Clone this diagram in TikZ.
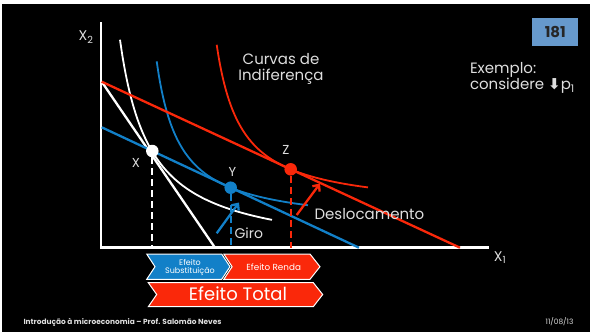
\documentclass[tikz,border=0pt]{standalone}
\usepackage{fontspec}
\setmainfont{Poppins}
\newfontfamily\symfont{DejaVu Sans}
\usetikzlibrary{arrows.meta}
\definecolor{slblue}{RGB}{18,128,200}
\definecolor{slred}{RGB}{250,40,10}
\definecolor{sltxt}{RGB}{222,222,222}
\definecolor{slbox}{RGB}{102,153,204}

\begin{document}
\begin{tikzpicture}[x=1pt, y=-1pt,
  axisline/.style={white, line width=2.5pt},
  budget/.style={line width=2.3pt},
  indif/.style={line width=1.8pt},
  proj/.style={line width=2.3pt, dash pattern=on 7pt off 4pt},
  eqpt/.style={circle, minimum size=12.5pt, inner sep=0pt},
  lbl/.style={text=sltxt, font=\fontsize{13}{15}\selectfont},
  chev/.style={draw=white, line width=1pt},
  effarrow/.style={line width=2.3pt, -{Straight Barb[length=5pt, width=9pt]}}]
% ---- slide background ----
\fill[black] (0,0) rectangle (590,332);
\fill[white] (0,0) rectangle (590,4);
\fill[white] (0,0) rectangle (2,332);
\useasboundingbox (0,0) rectangle (590,332);
% ---- axes ----
\coordinate (O) at (101,247.7);
\coordinate (ytop) at (101,22);
\coordinate (xend) at (489,247.7);
\draw[axisline] (ytop) -- (O) -- (xend);
\node[lbl, font=\fontsize{14}{16}\selectfont] (lX2) at (86,37) {X\textsubscript{2}};
\node[lbl, font=\fontsize{14}{16}\selectfont] (lX1) at (500,258) {X\textsubscript{1}};
% ---- indifference curves ----
\draw[indif, white]  plot[domain=120:272, samples=80, smooth] (\x, {255.4-6470/(\x-90)});
\draw[indif, slblue] plot[domain=156.7:308, samples=80, smooth] (\x, {227.3-3850/(\x-133.5)});
\draw[indif, slred]  plot[domain=216.7:368, samples=80, smooth] (\x, {210.5-4060/(\x-192.2)});
% ---- budget lines ----
\coordinate (Aw) at (101.7,81.7);
\coordinate (Bw) at (215,247.7);
\coordinate (Br) at (460,247.7);
\coordinate (Ab) at (101.7,127.3);
\coordinate (Bb) at (359,247.7);
\draw[budget, white]  (Aw) -- (Bw);
\draw[budget, slred]  (Aw) -- (Br);
\draw[budget, slblue] (Ab) -- (Bb);
% ---- equilibrium points ----
\node[eqpt, fill=white]  (ptX) at (152.3,151) {};
\node[eqpt, fill=slblue] (ptY) at (230.7,187.7) {};
\node[eqpt, fill=slred]  (ptZ) at (290.7,169.3) {};
\node[lbl] (lX) at (136,163) {X};
\node[lbl] (lY) at (232.3,171.7) {Y};
\node[lbl] (lZ) at (286,150) {Z};
\draw[proj, white]  (ptX) -- (ptX |- O);
\draw[proj, slblue] (ptY) -- (ptY |- O);
\draw[proj, slred]  (ptZ) -- (ptZ |- O);
% ---- shift arrows ----
\coordinate (giroS) at (216.7,233.3);
\coordinate (giroE) at (239,202.5);
\coordinate (deslS) at (296.7,215);
\coordinate (deslE) at (320,183.5);
\draw[effarrow, slblue] (giroS) -- (giroE);
\draw[effarrow, slred]  (deslS) -- (deslE);
\node[lbl, anchor=west, font=\fontsize{14}{16}\selectfont] (lGiro) at (231,233.3) {Giro};
\node[lbl, anchor=west, font=\fontsize{15}{16}\selectfont] (lDesl) at (311,214) {Deslocamento};
% ---- texts ----
\node[lbl, align=center, font=\fontsize{15}{16}\selectfont] (lCurvas) at (281,68.7)
  {Curvas de\\Indiferença};
\node[lbl, align=left, anchor=west, font=\fontsize{15}{16}\selectfont] (lEx) at (466.5,78)
  {Exemplo:\\considere {\symfont\bfseries ⬇}p\textsubscript{1}};
\node[fill=slbox, minimum width=46pt, minimum height=27.4pt, text=black!85,
  font=\bfseries\fontsize{15}{15}\selectfont] (pgnum) at (555.3,32) {181};
% ---- effect chevrons ----
\filldraw[chev, fill=slblue] (146.7,254) -- (221.7,254) -- (230,266.7) -- (221.7,279.3)
  -- (146.7,279.3) -- (155,266.7) -- cycle;
\filldraw[chev, fill=slred] (223.8,254) -- (310,254) -- (320,266.7) -- (310,279.3)
  -- (223.8,279.3) -- (232.1,266.7) -- cycle;
\filldraw[chev, fill=slred] (148.3,282.7) -- (313.3,282.7) -- (322.7,294.5) -- (313.3,306.7)
  -- (148.3,306.7) -- (156.7,294.5) -- cycle;
\node[white, align=center, font=\fontsize{8}{8.4}\selectfont] (lSubst) at (190,267.3)
  {Efeito\\Substituição};
\node[white, font=\fontsize{8.8}{9}\selectfont] (lRenda) at (273.7,266.7) {Efeito Renda};
\node[white, font=\fontsize{18}{20}\selectfont] (lTotal) at (238,294) {Efeito Total};
% ---- footer ----
\node[anchor=west, text=sltxt, font=\bfseries\fontsize{7.4}{8}\selectfont] (foot) at (20,322)
  {Introdução à microeconomia – Prof. Salomão Neves};
\node[anchor=east, text=sltxt, font=\fontsize{7.4}{8}\selectfont] (date) at (577,322) {11/08/13};
\end{tikzpicture}
\end{document}
